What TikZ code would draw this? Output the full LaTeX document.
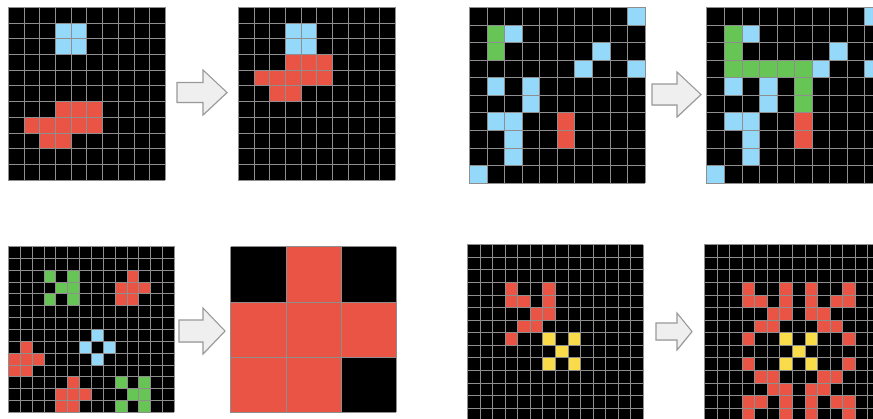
\documentclass[tikz,border=0pt]{standalone}
\usepackage{tikz}
\usetikzlibrary{shadows}

\definecolor{arcred}{HTML}{E95445}
\definecolor{arcblue}{HTML}{94D8FA}
\definecolor{arcgreen}{HTML}{66C555}
\definecolor{arcyellow}{HTML}{FADC4A}
\definecolor{gridgray}{HTML}{8E8E8E}
\definecolor{arrowfill}{HTML}{EFEFEF}

% black board with its grid lines: x0, y0, cell, cols, rows
\newcommand{\arcgrid}[5]{%
  \fill[black] (#1,#2) rectangle ++({#4*#3},{#5*#3});
  \foreach \i in {0,...,#4} \draw[gridline] ({#1+\i*#3},#2) -- ++(0,{#5*#3});
  \foreach \j in {0,...,#5} \draw[gridline] (#1,{#2+\j*#3}) -- ++({#4*#3},0);
}
% coloured cells: x0, y0, cell, colour, list of row/col
\newcommand{\arccells}[5]{%
  \foreach \r/\c in {#5}
    \filldraw[fill=#4, gridline] ({#1+\c*#3},{#2+\r*#3}) rectangle ++(#3,#3);
}
% block arrow: tail x, mid y, tip x, head x, half head, half shaft
\newcommand{\blockarrow}[6]{%
  \filldraw[arrowbox] (#1,{#2-#6}) -- (#4,{#2-#6}) -- (#4,{#2-#5}) -- (#3,#2)
    -- (#4,{#2+#5}) -- (#4,{#2+#6}) -- (#1,{#2+#6}) -- cycle;
}

\begin{document}
\begin{tikzpicture}[
        x=0.03cm, y=-0.03cm,
        gridline/.style={draw=gridgray, line width=0.6pt},
        arrowbox/.style={fill=arrowfill, draw=gray!80, line width=0.9pt, line join=miter,
          drop shadow={shadow xshift=0.5pt, shadow yshift=-0.5pt, opacity=0.3}}
    ]
    \clip (0,0) rectangle (873,418);
    \fill[white] (0,0) rectangle (873,418);

    % Top left: move the red shape up to the blue one
    \arcgrid{8.3}{7.3}{15.7}{10}{11}
    \arccells{8.3}{7.3}{15.7}{arcblue}{1/3,1/4,2/3,2/4}
    \arccells{8.3}{7.3}{15.7}{arcred}{6/3,6/4,6/5,7/1,7/2,7/3,7/4,7/5,8/2,8/3}
    \blockarrow{177}{92.5}{227}{203}{22.5}{10}
    \arcgrid{238.3}{7.3}{15.7}{10}{11}
    \arccells{238.3}{7.3}{15.7}{arcblue}{1/3,1/4,2/3,2/4}
    \arccells{238.3}{7.3}{15.7}{arcred}{3/3,3/4,3/5,4/1,4/2,4/3,4/4,4/5,5/2,5/3}

    % Top right: green path to the red bar
    \arcgrid{469.3}{7.3}{17.57}{10}{10}
    \arccells{469.3}{7.3}{17.57}{arcblue}{0/9,1/2,2/7,3/6,3/9,4/1,4/3,5/3,6/1,6/2,7/2,8/2,9/0}
    \arccells{469.3}{7.3}{17.57}{arcgreen}{1/1,2/1}
    \arccells{469.3}{7.3}{17.57}{arcred}{6/5,7/5}
    \blockarrow{652}{94.5}{701}{677}{22.5}{10.5}
    \arcgrid{706.7}{7.3}{17.57}{10}{10}
    \arccells{706.7}{7.3}{17.57}{arcblue}{0/9,1/2,2/7,3/6,3/9,4/1,4/3,5/3,6/1,6/2,7/2,8/2,9/0}
    \arccells{706.7}{7.3}{17.57}{arcgreen}{1/1,2/1,3/1,3/2,3/3,3/4,3/5,4/5,5/5}
    \arccells{706.7}{7.3}{17.57}{arcred}{6/5,7/5}

    % Bottom left: most frequent shape, zoomed
    \arcgrid{8.3}{246.3}{11.86}{14}{14}
    \arccells{8.3}{246.3}{11.86}{arcgreen}{2/3,2/5,3/4,3/5,4/3,4/5,11/9,11/11,12/10,12/11,13/9,13/11}
    \arccells{8.3}{246.3}{11.86}{arcred}{2/10,3/9,3/10,3/11,4/9,4/10,8/1,9/0,9/1,9/2,10/0,10/1,11/5,12/4,12/5,12/6,13/4,13/5}
    \arccells{8.3}{246.3}{11.86}{arcblue}{7/7,8/6,8/8,9/7}
    \blockarrow{179}{331}{225}{203}{23}{11}
    \arcgrid{230.7}{246.7}{55.2}{3}{3}
    \arccells{230.7}{246.7}{55.2}{arcred}{0/1,1/0,1/1,1/2,2/0,2/1}

    % Bottom right: mirror the red shape round the yellow centre
    \arcgrid{467.3}{244.7}{12.57}{14}{14}
    \arccells{467.3}{244.7}{12.57}{arcred}{3/3,3/6,4/3,4/4,4/6,5/5,5/6,6/4,6/5,7/3}
    \arccells{467.3}{244.7}{12.57}{arcyellow}{7/6,7/8,8/7,9/6,9/8}
    \blockarrow{656}{331.5}{692}{677}{18.5}{8.5}
    \arcgrid{704.3}{244.7}{12.57}{14}{14}
    \arccells{704.3}{244.7}{12.57}{arcred}{3/3,3/6,3/8,3/11,4/3,4/4,4/6,4/8,4/10,4/11,5/5,5/6,5/8,5/9,6/4,6/5,6/9,6/10,7/3,7/11,9/3,9/11,10/4,10/5,10/9,10/10,11/5,11/6,11/8,11/9,12/3,12/4,12/6,12/8,12/10,12/11,13/3,13/6,13/8,13/11}
    \arccells{704.3}{244.7}{12.57}{arcyellow}{7/6,7/8,8/7,9/6,9/8}

\end{tikzpicture}
\end{document}
